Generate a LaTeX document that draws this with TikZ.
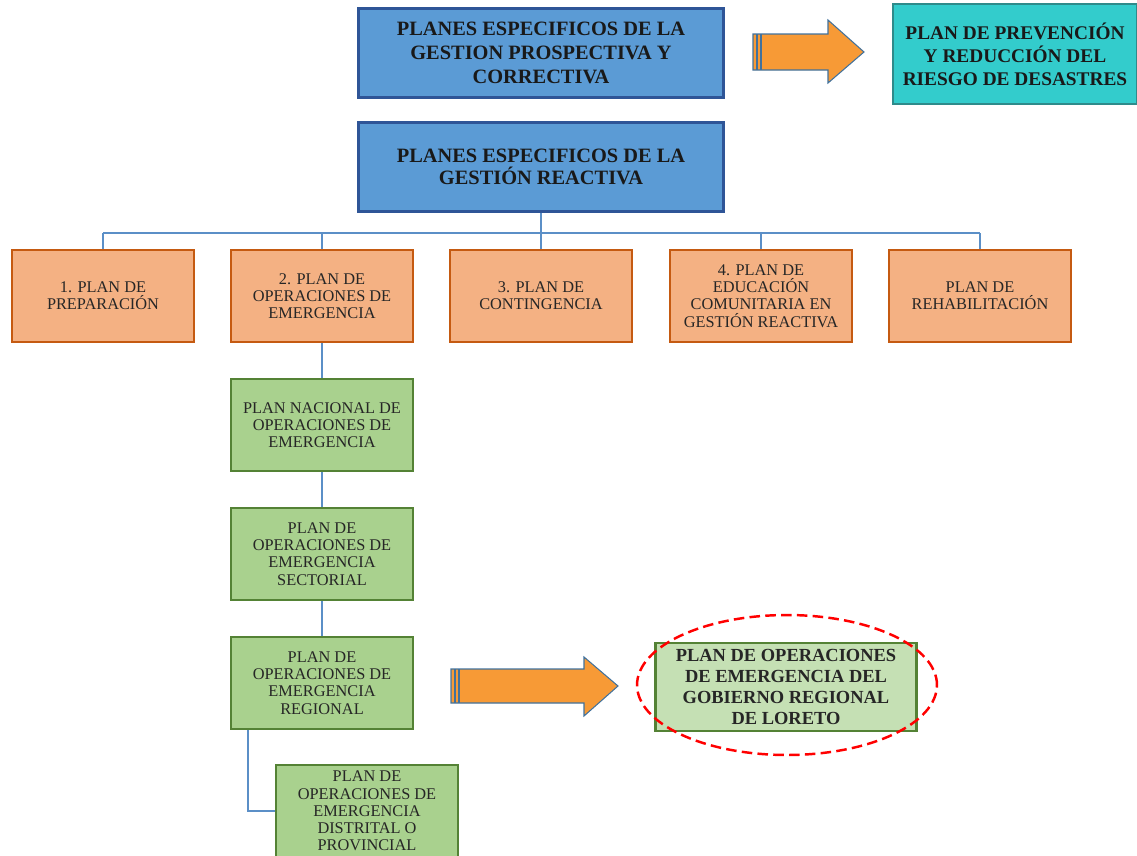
\documentclass[tikz,border=0pt]{standalone}
\usepackage{fontspec}
\setmainfont{Liberation Serif}
\usepackage{tikz}
\usetikzlibrary{positioning}

\definecolor{hdrblue}{HTML}{5B9BD5}
\definecolor{hdrline}{HTML}{2F5597}
\definecolor{teal}{HTML}{33CCCC}
\definecolor{tealline}{HTML}{2E8B8B}
\definecolor{planfill}{HTML}{F4B183}
\definecolor{planline}{HTML}{C55A11}
\definecolor{subfill}{HTML}{A9D18E}
\definecolor{subline}{HTML}{548235}
\definecolor{goalfill}{HTML}{C5E0B4}
\definecolor{linkblue}{HTML}{5B8FC7}
\definecolor{arrfill}{HTML}{F79A36}
\definecolor{arrline}{HTML}{41719C}

\begin{document}
\begin{tikzpicture}[
        x=0.02cm, y=-0.02cm,
        hdr/.style = {draw=hdrline, fill=hdrblue, line width=1.2pt, align=center,
                      font=\fontsize{11.6}{12.5}\selectfont\bfseries, text=black!90,
                      minimum width=7.3cm, minimum height=1.78cm, inner sep=0pt},
        plan/.style = {draw=planline, fill=planfill, line width=1.2pt, align=center,
                       font=\fontsize{9.3}{9.8}\selectfont, text=black!85,
                       minimum width=3.64cm, minimum height=1.84cm, inner sep=0pt},
        sub/.style = {plan, draw=subline, fill=subfill},
        link/.style = {draw=linkblue, line width=0.8pt},
        bigarr/.style = {fill=arrfill, draw=arrline, line width=0.6pt},
    ]
    \useasboundingbox (0,0) rectangle (1137,856);

    % headers
    \node (prosp) [hdr, font=\fontsize{11.6}{13.8}\selectfont\bfseries] at (541,53)
        {PLANES ESPECIFICOS DE LA\\GESTION PROSPECTIVA Y\\CORRECTIVA};
    \node (prev) [hdr, draw=tealline, fill=teal, minimum width=4.88cm, minimum height=2cm,
                  font=\fontsize{11}{13}\selectfont\bfseries]
        at (1015,54) {PLAN DE PREVENCIÓN\\Y REDUCCIÓN DEL\\RIESGO DE DESASTRES};
    \node (reac) [hdr] at (541,167) {PLANES ESPECIFICOS DE LA\\GESTIÓN REACTIVA};

    % reactive plans
    \node (p1) [plan] at (103,296) {1. PLAN DE\\PREPARACIÓN};
    \node (p2) [plan] at (322,296) {2. PLAN DE\\OPERACIONES DE\\EMERGENCIA};
    \node (p3) [plan] at (541,296) {3. PLAN DE\\CONTINGENCIA};
    \node (p4) [plan] at (761,296) {4. PLAN DE\\EDUCACIÓN\\COMUNITARIA EN\\GESTIÓN REACTIVA};
    \node (p5) [plan] at (980,296) {PLAN DE\\REHABILITACIÓN};

    % operation plans
    \node (nac) [sub] at (322,425) {PLAN NACIONAL DE\\OPERACIONES DE\\EMERGENCIA};
    \node (sec) [sub] at (322,554) {PLAN DE\\OPERACIONES DE\\EMERGENCIA\\SECTORIAL};
    \node (reg) [sub] at (322,683) {PLAN DE\\OPERACIONES DE\\EMERGENCIA\\REGIONAL};
    \node (dist) [sub] at (367,811) {PLAN DE\\OPERACIONES DE\\EMERGENCIA\\DISTRITAL O\\PROVINCIAL};
    \node (lor) [sub, fill=goalfill, minimum width=5.22cm, minimum height=1.76cm,
                 font=\fontsize{10.5}{12}\selectfont\bfseries] at (786,687)
        {PLAN DE OPERACIONES\\DE EMERGENCIA DEL\\GOBIERNO REGIONAL\\DE LORETO};

    % connectors
    \coordinate (bus) at (541,233);
    \path[link] (reac.south) -- (bus);
    \path[link] (bus -| p1.north) -- (bus -| p5.north);
    \foreach \n in {p1,p2,p3,p4,p5}
        \path[link] (bus -| \n.north) -- (\n.north);
    \path[link] (p2.south) -- (nac.north);
    \path[link] (nac.south) -- (sec.north);
    \path[link] (sec.south) -- (reg.north);
    \path[link] ([xshift=0.36cm]reg.south west) |- (dist.west);

    % block arrows
    \path[bigarr] (753,34) -- (828,34) -- (828,20) -- (864,52) -- (828,83)
        -- (828,70) -- (753,70) -- cycle;
    \draw[arrline, line width=0.6pt] (757,34) -- (757,70) (761,34) -- (761,70);
    \path[bigarr] (451,669) -- (584,669) -- (584,657) -- (618,686) -- (584,716)
        -- (584,703) -- (451,703) -- cycle;
    \draw[arrline, line width=0.6pt] (455,669) -- (455,703) (459,669) -- (459,703);

    % highlight
    \draw[red, dashed, line width=1.4pt, dash pattern=on 6pt off 3pt]
        (787,685) ellipse [x radius=3cm, y radius=1.4cm];
\end{tikzpicture}
\end{document}
